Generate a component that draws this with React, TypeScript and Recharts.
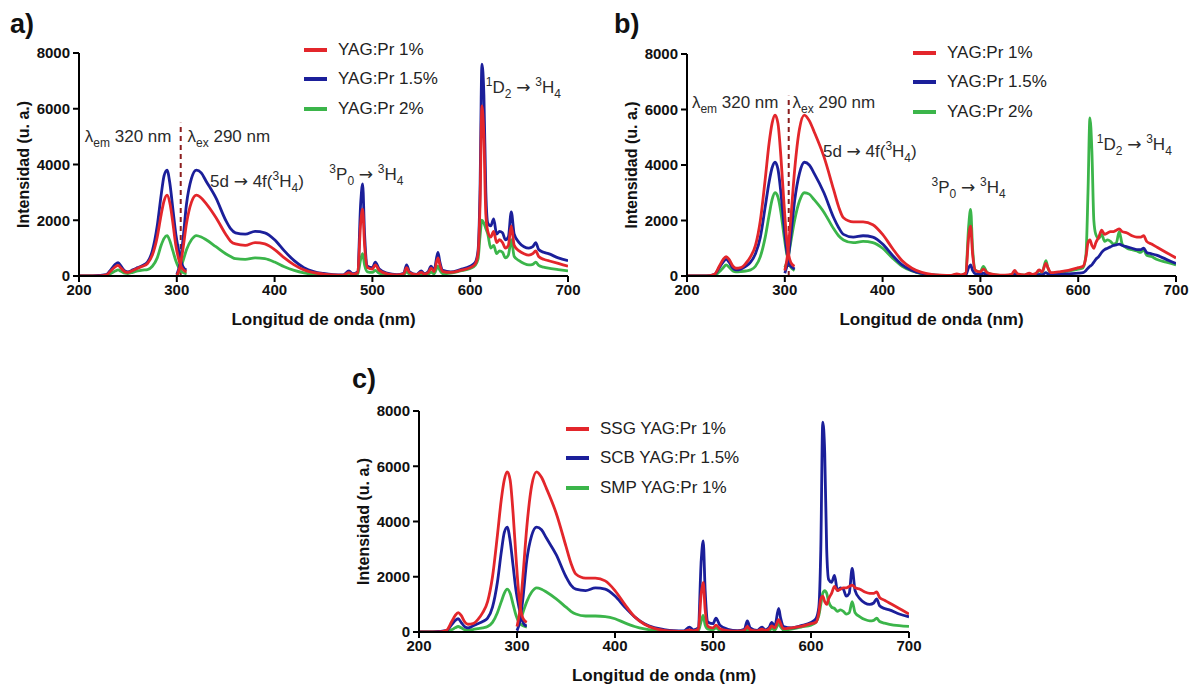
import React from 'react';
import { LineChart, Line, XAxis, YAxis, ReferenceLine, ReferenceDot, Legend } from 'recharts';

// colours and fonts
const RED = '#e3262b';
const BLUE = '#1b1f9a';
const GREEN = '#3bb54a';
const FONT = 'Arial, "Liberation Sans", sans-serif';

const X_TICKS = [200, 300, 400, 500, 600, 700];
const Y_TICKS = [0, 2000, 4000, 6000, 8000];

// wavelength grids (nm): excitation (em 320 nm) and emission (ex 290 nm)
const EXC_NM = [200, 210, 220, 228, 233, 237, 240, 243, 247, 250, 255, 260, 265, 270, 275, 280, 284, 287, 290, 293, 296, 299, 302, 305, 308, 310];
const EM_NM = [300, 303, 306, 310, 315, 320, 325, 330, 340, 350, 355, 360, 370, 380, 390, 400, 410, 420, 430, 440, 450, 460, 470, 476, 480, 485, 488, 490, 492, 495, 500, 503, 507, 515, 525, 532, 535, 538, 545, 550, 553, 557, 560, 563, 567, 569, 572, 580, 590, 600, 605, 608, 610, 612, 614, 616, 618, 621, 624, 627, 630, 633, 636, 639, 642, 645, 650, 655, 660, 664, 667, 670, 675, 680, 690, 700];

// panel a
const A_EXC_1 = [0, 0, 5, 40, 200, 330, 380, 280, 150, 130, 200, 280, 350, 450, 750, 1400, 2200, 2700, 2900, 2600, 1900, 1100, 600, 300, 180, 150];
const A_EXC_15 = [0, 0, 20, 50, 250, 420, 480, 350, 180, 150, 220, 300, 380, 500, 900, 1800, 2900, 3600, 3800, 3300, 2400, 1500, 900, 450, 250, 220];
const A_EXC_2 = [0, 0, 0, 20, 100, 180, 220, 170, 100, 90, 130, 180, 210, 230, 350, 650, 1100, 1350, 1450, 1250, 900, 550, 300, 150, 100, 80];
const A_EM_1 = [0, 300, 900, 1900, 2650, 2900, 2800, 2600, 2100, 1500, 1250, 1150, 1100, 1200, 1150, 950, 650, 400, 220, 120, 70, 40, 30, 120, 60, 120, 1900, 2400, 1100, 300, 250, 400, 200, 80, 40, 80, 300, 120, 50, 130, 70, 120, 280, 160, 650, 400, 160, 130, 200, 300, 420, 800, 2500, 6100, 5000, 2200, 1600, 1400, 1600, 1200, 1300, 1200, 1000, 1100, 1800, 1100, 900, 800, 750, 800, 900, 700, 600, 550, 450, 350];
const A_EM_15 = [50, 400, 1200, 2600, 3500, 3800, 3700, 3400, 2800, 2000, 1700, 1550, 1500, 1600, 1550, 1300, 900, 550, 300, 160, 90, 50, 40, 180, 80, 150, 2600, 3300, 1500, 350, 300, 500, 250, 100, 50, 100, 400, 150, 60, 180, 80, 150, 350, 200, 850, 500, 200, 150, 230, 350, 480, 900, 3000, 7600, 6500, 3000, 1900, 1800, 2050, 1500, 1600, 1550, 1300, 1400, 2300, 1500, 1200, 1050, 1000, 1050, 1200, 950, 850, 800, 650, 550];
const A_EM_2 = [0, 200, 500, 950, 1300, 1450, 1400, 1300, 1050, 800, 700, 620, 600, 650, 620, 500, 330, 200, 110, 60, 30, 20, 15, 60, 30, 70, 600, 800, 400, 150, 130, 200, 100, 40, 20, 40, 150, 60, 25, 70, 35, 60, 140, 80, 350, 200, 80, 100, 180, 270, 380, 600, 1400, 2000, 1900, 1700, 1500, 1000, 1100, 800, 900, 850, 650, 750, 1300, 700, 550, 450, 400, 420, 500, 380, 320, 280, 230, 180];

// panel b
const B_EXC_1 = [0, 0, 0, 60, 350, 600, 700, 600, 350, 280, 300, 450, 700, 1100, 2000, 3500, 4800, 5500, 5800, 5500, 4300, 2700, 1300, 600, 400, 350];
const B_EXC_15 = [0, 0, 0, 50, 300, 500, 600, 500, 280, 220, 250, 350, 500, 800, 1400, 2500, 3400, 3900, 4100, 3850, 3000, 1900, 900, 400, 300, 250];
const B_EXC_2 = [0, 0, 0, 20, 150, 300, 400, 320, 180, 150, 160, 180, 220, 350, 700, 1400, 2200, 2750, 3000, 2850, 2300, 1500, 800, 400, 250, 200];
const B_EM_1 = [200, 800, 2000, 3800, 5300, 5800, 5600, 5200, 4300, 3100, 2500, 2100, 1950, 1950, 1850, 1500, 1000, 550, 280, 130, 60, 30, 20, 80, 40, 100, 1400, 1800, 800, 200, 150, 250, 120, 50, 30, 60, 200, 80, 40, 100, 60, 100, 220, 150, 450, 300, 120, 150, 200, 300, 350, 700, 1200, 1300, 1100, 1000, 1200, 1400, 1650, 1500, 1550, 1600, 1600, 1650, 1700, 1600, 1550, 1450, 1400, 1400, 1450, 1250, 1150, 1050, 850, 650];
const B_EM_15 = [100, 500, 1400, 2700, 3700, 4100, 4000, 3700, 3000, 2100, 1750, 1500, 1400, 1450, 1400, 1150, 750, 400, 200, 90, 40, 20, 10, 40, 20, 40, 300, 400, 200, 80, 60, 100, 50, 20, 10, 20, 60, 30, 15, 30, 20, 30, 60, 40, 120, 80, 40, 60, 80, 100, 120, 200, 280, 350, 400, 500, 600, 700, 850, 950, 1000, 1050, 1100, 1120, 1150, 1100, 1050, 1000, 950, 950, 1000, 850, 800, 750, 600, 450];
const B_EM_2 = [300, 600, 1200, 2000, 2700, 3000, 2950, 2750, 2300, 1700, 1450, 1300, 1200, 1250, 1200, 1000, 650, 350, 180, 80, 40, 20, 10, 50, 25, 100, 1800, 2400, 1000, 200, 150, 350, 120, 40, 20, 40, 150, 60, 30, 80, 40, 80, 200, 120, 550, 300, 100, 120, 180, 250, 300, 800, 3000, 5700, 4500, 2000, 1500, 1350, 1500, 1250, 1300, 1250, 1150, 1200, 1600, 1150, 1000, 950, 900, 850, 950, 750, 700, 600, 500, 400];

// panel c
const C_EXC_SMP = [0, 0, 0, 10, 80, 150, 200, 150, 80, 70, 90, 120, 150, 200, 350, 700, 1100, 1400, 1550, 1400, 1000, 600, 350, 250, 200, 180];
const C_EM_SMP = [200, 400, 700, 1100, 1450, 1600, 1550, 1450, 1200, 900, 750, 650, 580, 580, 560, 480, 330, 200, 110, 60, 30, 20, 10, 40, 20, 40, 400, 600, 250, 100, 80, 150, 60, 20, 10, 30, 100, 40, 20, 50, 30, 50, 120, 70, 300, 180, 70, 100, 180, 250, 350, 600, 1000, 1400, 1500, 1400, 1100, 900, 850, 750, 800, 750, 650, 700, 1100, 700, 550, 450, 400, 420, 500, 380, 320, 280, 230, 200];

type Part = { t: string; sub?: boolean; sup?: boolean; arrow?: boolean };
interface Series { name: string; color: string; exc: number[]; em: number[] }
interface Note { x: number; y: number; parts: Part[] }

const rows = (nm: number[], vals: number[]) => nm.map((x, i) => ({ nm: x, v: vals[i] }));

const LAMBDA_EM: Part[] = [{ t: 'λ' }, { t: 'em', sub: true }, { t: ' 320 nm' }];
const LAMBDA_EX: Part[] = [{ t: 'λ' }, { t: 'ex', sub: true }, { t: ' 290 nm' }];
const T_5D: Part[] = [{ t: '5d ' }, { t: '→', arrow: true }, { t: ' 4f(' }, { t: '3', sup: true }, { t: 'H' }, { t: '4', sub: true }, { t: ')' }];
const T_3P0: Part[] = [{ t: '3', sup: true }, { t: 'P' }, { t: '0', sub: true }, { t: ' ' }, { t: '→', arrow: true }, { t: ' ' }, { t: '3', sup: true }, { t: 'H' }, { t: '4', sub: true }];
const T_1D2: Part[] = [{ t: '1', sup: true }, { t: 'D' }, { t: '2', sub: true }, { t: ' ' }, { t: '→', arrow: true }, { t: ' ' }, { t: '3', sup: true }, { t: 'H' }, { t: '4', sub: true }];

const NoteText = ({ cx, cy, parts }: { cx: number; cy: number; parts: Part[] }) => {
  let shift = 0;
  return (
    <text x={cx} y={cy} fontFamily={FONT} fontSize={17} fill="#2b2b2b">
      {parts.map((p, i) => {
        const target = p.sub ? 5 : p.sup ? -7 : 0;
        const dy = target - shift;
        shift = target;
        return (
          <tspan
            key={i}
            dy={dy}
            fontSize={p.sub || p.sup ? 12 : 17}
            fontFamily={p.arrow ? '"DejaVu Sans", sans-serif' : undefined}
          >
            {p.t}
          </tspan>
        );
      })}
    </text>
  );
};

const YTitle = ({ viewBox }: any) => {
  if (!viewBox) return null;
  const x = viewBox.x + 23;
  const y = viewBox.y + viewBox.height / 2;
  return (
    <text
      x={x}
      y={y}
      transform={`rotate(-90 ${x} ${y})`}
      textAnchor="middle"
      dominantBaseline="central"
      fontFamily={FONT}
      fontWeight="bold"
      fontSize={16}
      fill="#111"
    >
      Intensidad (u. a.)
    </text>
  );
};

const LegendBox = ({ items }: { items: Series[] }) => (
  <div style={{ fontFamily: FONT, fontSize: 17, color: '#222' }}>
    {items.map(s => (
      <div key={s.name} style={{ display: 'flex', alignItems: 'center', height: 29.5 }}>
        <span style={{ display: 'inline-block', width: 23, height: 4, background: s.color, marginRight: 11 }} />
        <span style={{ whiteSpace: 'nowrap' }}>{s.name}</span>
      </div>
    ))}
  </div>
);

interface PanelProps {
  letter: string;
  series: Series[];
  notes: Note[];
  dash?: { x: number; top: number };
  left: number;
  top: number;
  width: number;
  height: number;
  margin: { top: number; right: number; left: number; bottom: number };
  legendPos: { left: number; top: number };
  letterPos: { left: number; top: number };
}

const axisStyle = { stroke: '#000', strokeWidth: 2 };
const tickStyle = { fontFamily: FONT, fontSize: 15, fontWeight: 'bold', fill: '#111' };

const Panel: React.FC<PanelProps> = ({ letter, series, notes, dash, left, top, width, height, margin, legendPos, letterPos }) => (
  <>
    <div
      style={{
        position: 'absolute',
        left: letterPos.left,
        top: letterPos.top,
        fontFamily: FONT,
        fontWeight: 'bold',
        fontSize: 27,
        lineHeight: 1,
        color: '#111'
      }}
    >
      {letter}
    </div>
    <div style={{ position: 'absolute', left, top }}>
      <LineChart width={width} height={height} margin={margin}>
        <XAxis
          type="number"
          dataKey="nm"
          domain={[200, 700]}
          ticks={X_TICKS}
          allowDataOverflow
          axisLine={axisStyle}
          tickLine={axisStyle}
          tickSize={6}
          tick={tickStyle}
          height={52}
          label={{
            value: 'Longitud de onda (nm)',
            position: 'insideBottom',
            offset: 3,
            style: { fontFamily: FONT, fontSize: 17, fontWeight: 'bold', fill: '#111' }
          }}
        />
        <YAxis
          type="number"
          domain={[0, 8000]}
          ticks={Y_TICKS}
          allowDataOverflow
          axisLine={axisStyle}
          tickLine={axisStyle}
          tickSize={6}
          tickMargin={3}
          tick={tickStyle}
          width={79}
          label={{ content: YTitle }}
        />
        {dash && (
          <ReferenceLine
            segment={[{ x: dash.x, y: 0 }, { x: dash.x, y: dash.top }]}
            stroke="#8b1d1d"
            strokeWidth={2}
            strokeDasharray="5 4"
          />
        )}
        {[...series].reverse().flatMap(s => [
          <Line
            key={s.name + '-exc'}
            data={rows(EXC_NM, s.exc)}
            dataKey="v"
            type="monotone"
            stroke={s.color}
            strokeWidth={2.8}
            dot={false}
            legendType="none"
            isAnimationActive={false}
          />,
          <Line
            key={s.name + '-em'}
            data={rows(EM_NM, s.em)}
            dataKey="v"
            name={s.name}
            type="monotone"
            stroke={s.color}
            strokeWidth={2.8}
            dot={false}
            isAnimationActive={false}
          />
        ])}
        {notes.map((n, i) => (
          <ReferenceDot
            key={i}
            x={n.x}
            y={n.y}
            r={0}
            ifOverflow="visible"
            shape={(p: any) => <NoteText cx={p.cx} cy={p.cy} parts={n.parts} />}
          />
        ))}
        <Legend
          layout="horizontal"
          verticalAlign="middle"
          align="center"
          content={() => <LegendBox items={series} />}
          wrapperStyle={{ left: legendPos.left, top: legendPos.top, width: 'auto', height: 'auto' }}
        />
      </LineChart>
    </div>
  </>
);

const SERIES_A: Series[] = [
  { name: 'YAG:Pr 1%', color: RED, exc: A_EXC_1, em: A_EM_1 },
  { name: 'YAG:Pr 1.5%', color: BLUE, exc: A_EXC_15, em: A_EM_15 },
  { name: 'YAG:Pr 2%', color: GREEN, exc: A_EXC_2, em: A_EM_2 }
];
const SERIES_B: Series[] = [
  { name: 'YAG:Pr 1%', color: RED, exc: B_EXC_1, em: B_EM_1 },
  { name: 'YAG:Pr 1.5%', color: BLUE, exc: B_EXC_15, em: B_EM_15 },
  { name: 'YAG:Pr 2%', color: GREEN, exc: B_EXC_2, em: B_EM_2 }
];
const SERIES_C: Series[] = [
  { name: 'SSG YAG:Pr 1%', color: RED, exc: B_EXC_1, em: B_EM_1 },
  { name: 'SCB YAG:Pr 1.5%', color: BLUE, exc: A_EXC_15, em: A_EM_15 },
  { name: 'SMP YAG:Pr 1%', color: GREEN, exc: C_EXC_SMP, em: C_EM_SMP }
];

const NOTES_A: Note[] = [
  { x: 206, y: 4820, parts: LAMBDA_EM },
  { x: 311, y: 4820, parts: LAMBDA_EX },
  { x: 334, y: 3200, parts: T_5D },
  { x: 456, y: 3440, parts: T_3P0 },
  { x: 616, y: 6570, parts: T_1D2 }
];
const NOTES_B: Note[] = [
  { x: 205, y: 6050, parts: LAMBDA_EM },
  { x: 308, y: 6050, parts: LAMBDA_EX },
  { x: 339, y: 4300, parts: T_5D },
  { x: 450, y: 2990, parts: T_3P0 },
  { x: 619, y: 4550, parts: T_1D2 }
];

export default function App() {
  return (
    <div style={{ position: 'absolute', left: 0, top: 0, width: 1195, height: 689, background: '#fff', overflow: 'hidden' }}>
      <Panel
        letter="a)"
        series={SERIES_A}
        notes={NOTES_A}
        dash={{ x: 304, top: 5500 }}
        left={0}
        top={0}
        width={600}
        height={340}
        margin={{ top: 53, right: 32, left: 0, bottom: 12 }}
        legendPos={{ left: 304, top: 35 }}
        letterPos={{ left: 10, top: 11 }}
      />
      <Panel
        letter="b)"
        series={SERIES_B}
        notes={NOTES_B}
        dash={{ x: 304, top: 6500 }}
        left={600}
        top={0}
        width={595}
        height={340}
        margin={{ top: 54, right: 19, left: 8, bottom: 12 }}
        legendPos={{ left: 313, top: 38 }}
        letterPos={{ left: 614, top: 11 }}
      />
      <Panel
        letter="c)"
        series={SERIES_C}
        notes={[]}
        left={340}
        top={358}
        width={600}
        height={331}
        margin={{ top: 53, right: 31, left: 0, bottom: 5 }}
        legendPos={{ left: 226, top: 56 }}
        letterPos={{ left: 352, top: 366 }}
      />
    </div>
  );
}
